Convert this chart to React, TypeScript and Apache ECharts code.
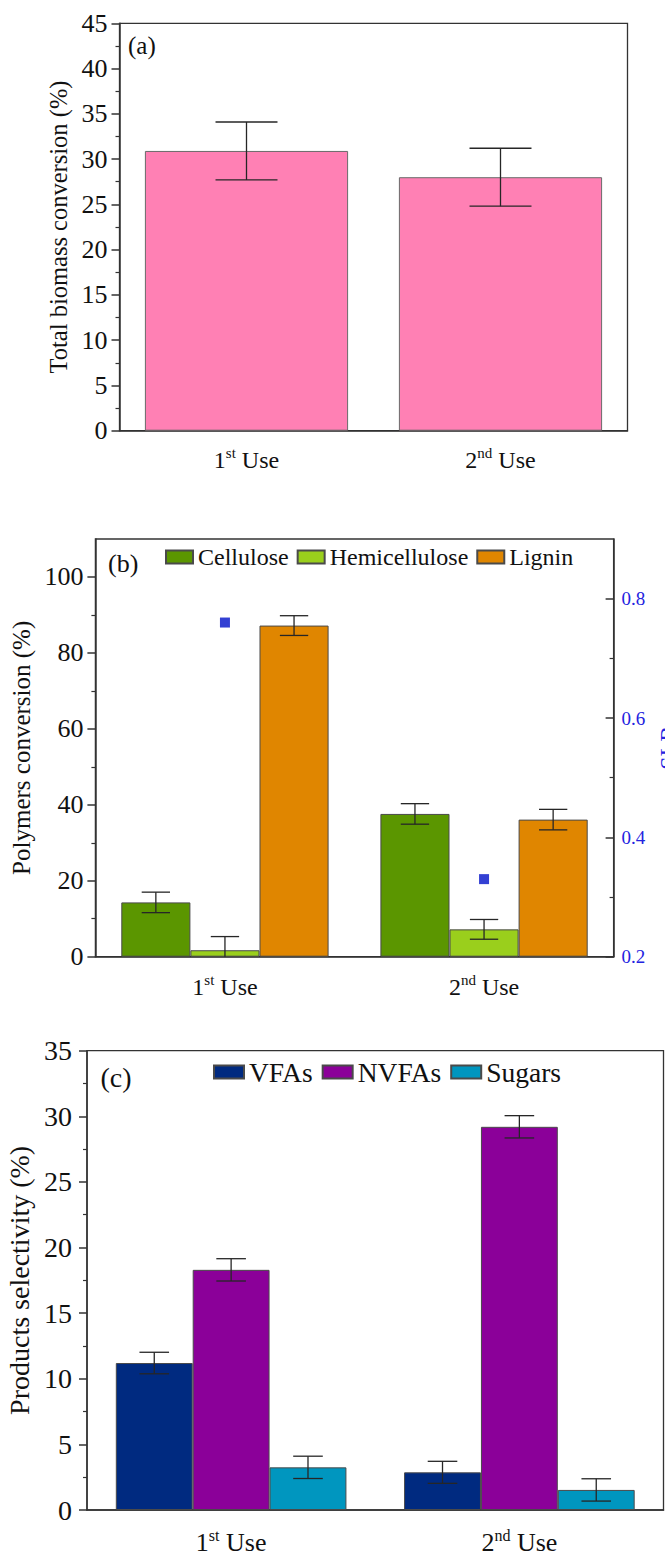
import React, { useEffect, useRef } from 'react';
import * as echarts from 'echarts';

// ---------- data ----------
const categories = ['1st Use', '2nd Use'];
const catNum = ['1', '2'];
const catSup = ['st', 'nd'];

// (a) total biomass conversion (%)
const totalConversion = [30.9, 28.0];
const totalConversionErr = [3.2, 3.2];

// (b) polymers conversion (%) and SLR
const polymerNames = ['Cellulose', 'Hemicellulose', 'Lignin'];
const celluloseConv = [14.3, 37.6];
const celluloseErr = [2.7, 2.7];
const hemicelluloseConv = [1.7, 7.2];
const hemicelluloseErr = [3.6, 2.6];
const ligninConv = [87.2, 36.1];
const ligninErr = [2.6, 2.7];
const slrValues = [0.76, 0.33];

// (c) products selectivity (%)
const productNames = ['VFAs', 'NVFAs', 'Sugars'];
const vfasSel = [11.2, 2.87];
const vfasErr = [0.82, 0.84];
const nvfasSel = [18.3, 29.2];
const nvfasErr = [0.85, 0.85];
const sugarsSel = [3.25, 1.53];
const sugarsErr = [0.85, 0.85];

// tick values
const ticksBLeft = [0, 20, 40, 60, 80, 100];
const minorBLeft = [10, 30, 50, 70, 90];
const ticksBRight = [0.2, 0.4, 0.6, 0.8];
const minorBRight = [0.3, 0.5, 0.7];

// ---------- styles ----------
const FONT = "'Liberation Serif', 'Times New Roman', serif";
const AX = '#333333';
const TXT = '#111111';
const BLUE_TXT = '#2323e0';

const pairs = (vals: number[], errs: number[]) => vals.map((v, i) => [i, v, errs[i]]);

function errorRender(nSeries: number, idx: number, capFrac: number) {
  return (params: any, api: any) => {
    const cat = api.value(0);
    const v = api.value(1);
    const e = api.value(2);
    const band = api.size([1, 0])[0];
    const bw = (band * 0.8) / nSeries;
    const cx = api.coord([cat, 0])[0] + (idx - (nSeries - 1) / 2) * bw;
    const lowV = v - e;
    const clipped = lowV < 0;
    const yHi = api.coord([cat, v + e])[1];
    const yLo = api.coord([cat, Math.max(lowV, 0)])[1];
    const half = (bw * capFrac) / 2;
    const style = { stroke: '#262626', lineWidth: 1.3 };
    const children: any[] = [
      { type: 'line', shape: { x1: cx, y1: yHi, x2: cx, y2: yLo }, style },
      { type: 'line', shape: { x1: cx - half, y1: yHi, x2: cx + half, y2: yHi }, style },
    ];
    if (!clipped) {
      children.push({ type: 'line', shape: { x1: cx - half, y1: yLo, x2: cx + half, y2: yLo }, style });
    }
    return { type: 'group', children };
  };
}

function catLabel(fs: number, sup: number, margin: number) {
  return {
    margin,
    formatter: (_v: string, i: number) => `{n|${catNum[i]}}{s|${catSup[i]}}{n| Use}`,
    rich: {
      n: { fontSize: fs, fontFamily: FONT, color: TXT, lineHeight: fs + 4 },
      s: { fontSize: sup, fontFamily: FONT, color: TXT, lineHeight: sup, verticalAlign: 'top' },
    },
  };
}

function mainX(grid: number, fs: number, sup: number, margin: number) {
  return {
    type: 'category',
    gridIndex: grid,
    position: 'bottom',
    data: categories,
    axisLine: { lineStyle: { color: AX, width: 1.5 } },
    axisTick: { alignWithLabel: true, length: 8, lineStyle: { color: AX, width: 1.5 } },
    axisLabel: catLabel(fs, sup, margin),
    splitLine: { show: false },
  };
}

function boundaryX(grid: number) {
  return {
    type: 'category',
    gridIndex: grid,
    position: 'bottom',
    data: categories,
    axisLine: { show: false },
    axisTick: { length: 3, lineStyle: { color: AX, width: 1.2 } },
    axisLabel: { show: false },
    splitLine: { show: false },
  };
}

const tickFont = (fs: number, color = TXT) => ({ fontSize: fs, fontFamily: FONT, color });

export default function App() {
  const ref = useRef<HTMLDivElement>(null);

  useEffect(() => {
    if (!ref.current) return;
    const chart = echarts.init(ref.current, undefined, { renderer: 'svg' });

    const barStyle = (color: string) => ({ color, borderColor: '#4a4a4a', borderWidth: 1 });
    const gridBase = { show: true, borderColor: AX, borderWidth: 1.3, containLabel: false, outerBoundsMode: 'none' };

    const option: any = {
      animation: false,
      backgroundColor: '#ffffff',
      grid: [
        { ...gridBase, left: 119.5, right: 37.5, top: 23.3, height: 407.4 },
        { ...gridBase, left: 95.4, right: 51.4, top: 539, height: 417.7 },
        { ...gridBase, left: 87, right: 1.5, top: 1050.7, height: 459.3 },
      ],
      legend: [
        {
          data: polymerNames,
          left: 165,
          top: 545,
          padding: 0,
          itemWidth: 27,
          itemHeight: 13,
          itemGap: 8,
          icon: 'rect',
          textStyle: { fontSize: 24, fontFamily: FONT, color: TXT },
        },
        {
          data: productNames,
          left: 213,
          top: 1058,
          padding: 0,
          itemWidth: 30,
          itemHeight: 13,
          itemGap: 9,
          icon: 'rect',
          textStyle: { fontSize: 27.5, fontFamily: FONT, color: TXT },
        },
      ],
      xAxis: [
        mainX(0, 24, 15, 15),
        boundaryX(0),
        mainX(1, 24, 15, 16),
        boundaryX(1),
        mainX(2, 26, 16, 17),
        boundaryX(2),
      ],
      yAxis: [
        {
          type: 'value',
          gridIndex: 0,
          position: 'left',
          min: 0,
          max: 45,
          interval: 5,
          name: 'Total biomass conversion (%)',
          nameLocation: 'middle',
          nameGap: 45,
          nameTextStyle: { fontSize: 24.5, fontFamily: FONT, color: TXT },
          axisLine: { show: true, lineStyle: { color: AX, width: 1.5 } },
          axisTick: { show: true, length: 8, lineStyle: { color: AX, width: 1.5 } },
          minorTick: { show: true, splitNumber: 2, length: 4, lineStyle: { color: AX, width: 1.2 } },
          axisLabel: { ...tickFont(26), margin: 12 },
          splitLine: { show: false },
          minorSplitLine: { show: false },
        },
        {
          type: 'value',
          gridIndex: 1,
          position: 'left',
          min: 0,
          max: 110,
          name: 'Polymers conversion (%)',
          nameLocation: 'middle',
          nameGap: 57,
          nameTextStyle: { fontSize: 25, fontFamily: FONT, color: TXT },
          axisLine: { show: true, lineStyle: { color: AX, width: 1.5 } },
          axisTick: { show: true, length: 8, customValues: ticksBLeft, lineStyle: { color: AX, width: 1.5 } },
          axisLabel: { ...tickFont(26), margin: 12, customValues: ticksBLeft },
          splitLine: { show: false },
        },
        {
          type: 'value',
          gridIndex: 1,
          position: 'right',
          min: 0.2,
          max: 0.9,
          name: 'SLR',
          nameLocation: 'middle',
          nameGap: 40,
          nameRotate: 90,
          nameTextStyle: { fontSize: 24, fontFamily: FONT, color: BLUE_TXT },
          axisLine: { show: true, lineStyle: { color: AX, width: 1.5 } },
          axisTick: { show: true, inside: true, length: 8, customValues: ticksBRight, lineStyle: { color: AX, width: 1.5 } },
          axisLabel: { ...tickFont(19, BLUE_TXT), margin: 8, customValues: ticksBRight, formatter: (v: number) => v.toFixed(1) },
          splitLine: { show: false },
        },
        {
          type: 'value',
          gridIndex: 1,
          position: 'left',
          min: 0,
          max: 110,
          axisLine: { show: false },
          axisTick: { show: true, length: 4, customValues: minorBLeft, lineStyle: { color: AX, width: 1.2 } },
          axisLabel: { show: false },
          splitLine: { show: false },
        },
        {
          type: 'value',
          gridIndex: 1,
          position: 'right',
          min: 0.2,
          max: 0.9,
          axisLine: { show: false },
          axisTick: { show: true, inside: true, length: 4, customValues: minorBRight, lineStyle: { color: AX, width: 1.2 } },
          axisLabel: { show: false },
          splitLine: { show: false },
        },
        {
          type: 'value',
          gridIndex: 2,
          position: 'left',
          min: 0,
          max: 35,
          interval: 5,
          name: 'Products selectivity (%)',
          nameLocation: 'middle',
          nameGap: 50,
          nameTextStyle: { fontSize: 28, fontFamily: FONT, color: TXT },
          axisLine: { show: true, lineStyle: { color: AX, width: 1.5 } },
          axisTick: { show: true, length: 8, lineStyle: { color: AX, width: 1.5 } },
          minorTick: { show: true, splitNumber: 2, length: 4, lineStyle: { color: AX, width: 1.2 } },
          axisLabel: { ...tickFont(28), margin: 15 },
          splitLine: { show: false },
          minorSplitLine: { show: false },
        },
      ],
      series: [
        // (a)
        {
          name: 'Total', type: 'bar', xAxisIndex: 0, yAxisIndex: 0,
          data: totalConversion, barCategoryGap: '20%',
          itemStyle: { color: '#ff80b4', borderColor: '#6a6a6a', borderWidth: 1 },
        },
        {
          type: 'custom', xAxisIndex: 0, yAxisIndex: 0, z: 10,
          renderItem: errorRender(1, 0, 0.305),
          encode: { x: 0, y: 1 },
          data: pairs(totalConversion, totalConversionErr),
        },
        // (b)
        {
          name: 'Cellulose', type: 'bar', xAxisIndex: 2, yAxisIndex: 1,
          data: celluloseConv, barGap: '0%', barCategoryGap: '20%', itemStyle: barStyle('#5b9600'),
        },
        {
          name: 'Hemicellulose', type: 'bar', xAxisIndex: 2, yAxisIndex: 1,
          data: hemicelluloseConv, barGap: '0%', barCategoryGap: '20%', itemStyle: barStyle('#9acf1c'),
        },
        {
          name: 'Lignin', type: 'bar', xAxisIndex: 2, yAxisIndex: 1,
          data: ligninConv, barGap: '0%', barCategoryGap: '20%', itemStyle: barStyle('#e08600'),
        },
        {
          type: 'custom', xAxisIndex: 2, yAxisIndex: 1, z: 10,
          renderItem: errorRender(3, 0, 0.41), encode: { x: 0, y: 1 },
          data: pairs(celluloseConv, celluloseErr),
        },
        {
          type: 'custom', xAxisIndex: 2, yAxisIndex: 1, z: 10,
          renderItem: errorRender(3, 1, 0.41), encode: { x: 0, y: 1 },
          data: pairs(hemicelluloseConv, hemicelluloseErr),
        },
        {
          type: 'custom', xAxisIndex: 2, yAxisIndex: 1, z: 10,
          renderItem: errorRender(3, 2, 0.41), encode: { x: 0, y: 1 },
          data: pairs(ligninConv, ligninErr),
        },
        {
          name: 'SLR', type: 'scatter', xAxisIndex: 2, yAxisIndex: 2, z: 12,
          symbol: 'rect', symbolSize: 10,
          itemStyle: { color: '#0010c8' },
          data: slrValues,
        },
        // (c)
        {
          name: 'VFAs', type: 'bar', xAxisIndex: 4, yAxisIndex: 5,
          data: vfasSel, barGap: '0%', barCategoryGap: '20%', itemStyle: barStyle('#002a80'),
        },
        {
          name: 'NVFAs', type: 'bar', xAxisIndex: 4, yAxisIndex: 5,
          data: nvfasSel, barGap: '0%', barCategoryGap: '20%', itemStyle: barStyle('#8b0099'),
        },
        {
          name: 'Sugars', type: 'bar', xAxisIndex: 4, yAxisIndex: 5,
          data: sugarsSel, barGap: '0%', barCategoryGap: '20%', itemStyle: barStyle('#0096bf'),
        },
        {
          type: 'custom', xAxisIndex: 4, yAxisIndex: 5, z: 10,
          renderItem: errorRender(3, 0, 0.385), encode: { x: 0, y: 1 },
          data: pairs(vfasSel, vfasErr),
        },
        {
          type: 'custom', xAxisIndex: 4, yAxisIndex: 5, z: 10,
          renderItem: errorRender(3, 1, 0.385), encode: { x: 0, y: 1 },
          data: pairs(nvfasSel, nvfasErr),
        },
        {
          type: 'custom', xAxisIndex: 4, yAxisIndex: 5, z: 10,
          renderItem: errorRender(3, 2, 0.385), encode: { x: 0, y: 1 },
          data: pairs(sugarsSel, sugarsErr),
        },
      ],
      graphic: [
        { type: 'text', x: 128, y: 45, style: { text: '(a)', font: `25px ${FONT}`, fill: TXT, verticalAlign: 'middle' } },
        { type: 'text', x: 108, y: 563, style: { text: '(b)', font: `26px ${FONT}`, fill: TXT, verticalAlign: 'middle' } },
        { type: 'text', x: 100.5, y: 1077, style: { text: '(c)', font: `28px ${FONT}`, fill: TXT, verticalAlign: 'middle' } },
      ],
    };

    chart.setOption(option);
    return () => chart.dispose();
  }, []);

  return (
    <div
      ref={ref}
      style={{ position: 'absolute', left: 0, top: 0, width: 665, height: 1561, background: '#fff' }}
    />
  );
}
